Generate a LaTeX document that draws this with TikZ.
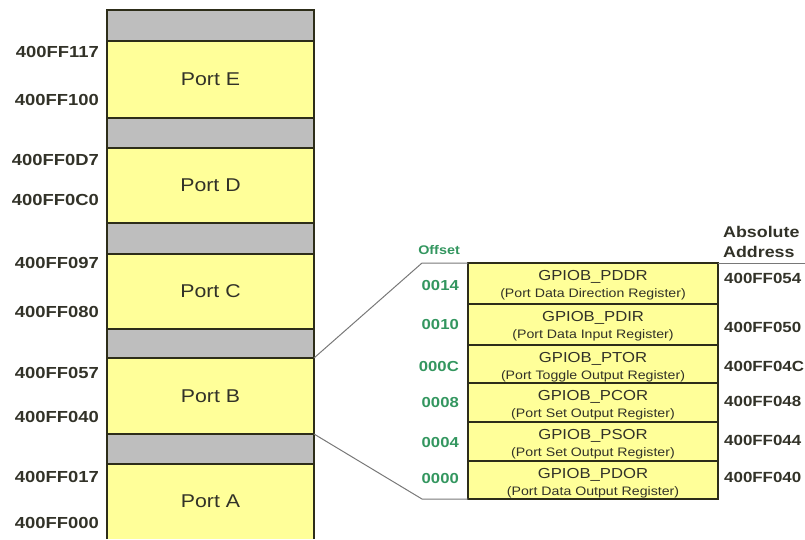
\documentclass[tikz,border=0pt]{standalone}
\usepackage{fontspec}
\setmainfont{Liberation Sans}[FakeStretch=1.15]
\definecolor{ylw}{RGB}{255,255,153}
\definecolor{gry}{RGB}{190,190,190}
\definecolor{edge}{RGB}{45,45,25}
\definecolor{grn}{RGB}{51,150,95}
\definecolor{txt}{RGB}{50,50,40}
\definecolor{zline}{RGB}{120,120,120}
\tikzset{
  band/.style={draw=edge, line width=2pt, minimum width=207pt, inner sep=0pt, outer sep=0pt, anchor=north west},
  portbox/.style={band, fill=ylw, text=txt, font=\fontsize{18.5}{20}\selectfont},
  gapbox/.style={band, fill=gry},
  addr/.style={anchor=east, inner sep=0pt, text=txt, font=\fontsize{16}{18}\selectfont\bfseries},
  raddr/.style={anchor=west, inner sep=0pt, text=txt, font=\fontsize{14.7}{17}\selectfont\bfseries},
  offs/.style={anchor=east, inner sep=0pt, text=grn, font=\fontsize{14.5}{16}\selectfont\bfseries},
  reg/.style={draw=edge, line width=1.6pt, fill=ylw, minimum width=250pt, inner sep=0pt, outer sep=0pt, anchor=north west},
  regname/.style={inner sep=0pt, text=txt, font=\fontsize{14.5}{16}\selectfont},
  regdesc/.style={inner sep=0pt, text=txt, font=\fontsize{12.3}{14}\selectfont},
  zoomline/.style={draw=zline, line width=1pt},
}
\begin{document}
\begin{tikzpicture}[x=1pt,y=-1pt]
\useasboundingbox (0,0) rectangle (805,539);
% left memory column
\node[gapbox, minimum height=31pt] (g1) at (107,10) {};
\node[portbox, minimum height=77pt] (pE) at (107,41) {Port E};
\node[gapbox, minimum height=30pt] (g2) at (107,118) {};
\node[portbox, minimum height=75pt] (pD) at (107,148) {Port D};
\node[gapbox, minimum height=31pt] (g3) at (107,223) {};
\node[portbox, minimum height=75pt] (pC) at (107,254) {Port C};
\node[gapbox, minimum height=29pt] (g4) at (107,329) {};
\node[portbox, minimum height=76pt] (pB) at (107,358) {Port B};
\node[gapbox, minimum height=30pt] (g5) at (107,434) {};
\node[portbox, draw=none, minimum height=75pt] (pA) at (107,464) {Port A};
\draw[edge, line width=2pt] (pA.south west) -- (pA.north west) -- (pA.north east) -- (pA.south east);
% left address labels
\node[addr] (a1) at (99,52) {400FF117};
\node[addr] (a2) at (99,100) {400FF100};
\node[addr] (a3) at (99,160) {400FF0D7};
\node[addr] (a4) at (99,200) {400FF0C0};
\node[addr] (a5) at (99,263) {400FF097};
\node[addr] (a6) at (99,312) {400FF080};
\node[addr] (a7) at (99,373) {400FF057};
\node[addr] (a8) at (99,417) {400FF040};
\node[addr] (a9) at (99,477) {400FF017};
\node[addr] (a10) at (99,523) {400FF000};
% register table
\node[reg, minimum height=41pt] (r1) at (468,263) {};
\node[reg, minimum height=41pt] (r2) at (468,304) {};
\node[reg, minimum height=38pt] (r3) at (468,345) {};
\node[reg, minimum height=39pt] (r4) at (468,383) {};
\node[reg, minimum height=39pt] (r5) at (468,422) {};
\node[reg, minimum height=38pt] (r6) at (468,461) {};
\foreach \r/\n/\d in {r1/GPIOB\_PDDR/(Port Data Direction Register),
                      r2/GPIOB\_PDIR/(Port Data Input Register),
                      r3/GPIOB\_PTOR/(Port Toggle Output Register),
                      r4/GPIOB\_PCOR/(Port Set Output Register),
                      r5/GPIOB\_PSOR/(Port Set Output Register),
                      r6/GPIOB\_PDOR/(Port Data Output Register)}{
  \node[regname] (\r n) at ([yshift=-14pt]\r.north) {\n};
  \node[regdesc] (\r d) at ([yshift=-31.5pt]\r.north) {\d};
}
% offsets
\node[anchor=east, inner sep=0pt, text=grn, font=\fontsize{12.5}{14}\selectfont\bfseries] (offh) at (460,250) {Offset};
\node[offs] (o1) at (459,285) {0014};
\node[offs] (o2) at (459,324) {0010};
\node[offs] (o3) at (459,366) {000C};
\node[offs] (o4) at (459,402) {0008};
\node[offs] (o5) at (459,442) {0004};
\node[offs] (o6) at (459,478) {0000};
% absolute addresses
\node[raddr, font=\fontsize{15.5}{17}\selectfont\bfseries] (abs1) at (723,232) {Absolute};
\node[raddr, font=\fontsize{15.5}{17}\selectfont\bfseries] (abs2) at (723,252) {Address};
\node[raddr] (b1) at (724,278) {400FF054};
\node[raddr] (b2) at (724,327) {400FF050};
\node[raddr] (b3) at (724,366) {400FF04C};
\node[raddr] (b4) at (724,401) {400FF048};
\node[raddr] (b5) at (724,440) {400FF044};
\node[raddr] (b6) at (724,477) {400FF040};
% zoom connectors
\coordinate (zt) at (422,263);
\coordinate (zb) at (422,499);
\coordinate (ze) at (805,263);
\draw[zoomline] (pB.north east) -- (zt) -- (r1.north west);
\draw[zoomline] (pB.south east) -- (zb) -- (r6.south west);
\draw[zoomline] (r1.north east) -- (ze);
\end{tikzpicture}
\end{document}
